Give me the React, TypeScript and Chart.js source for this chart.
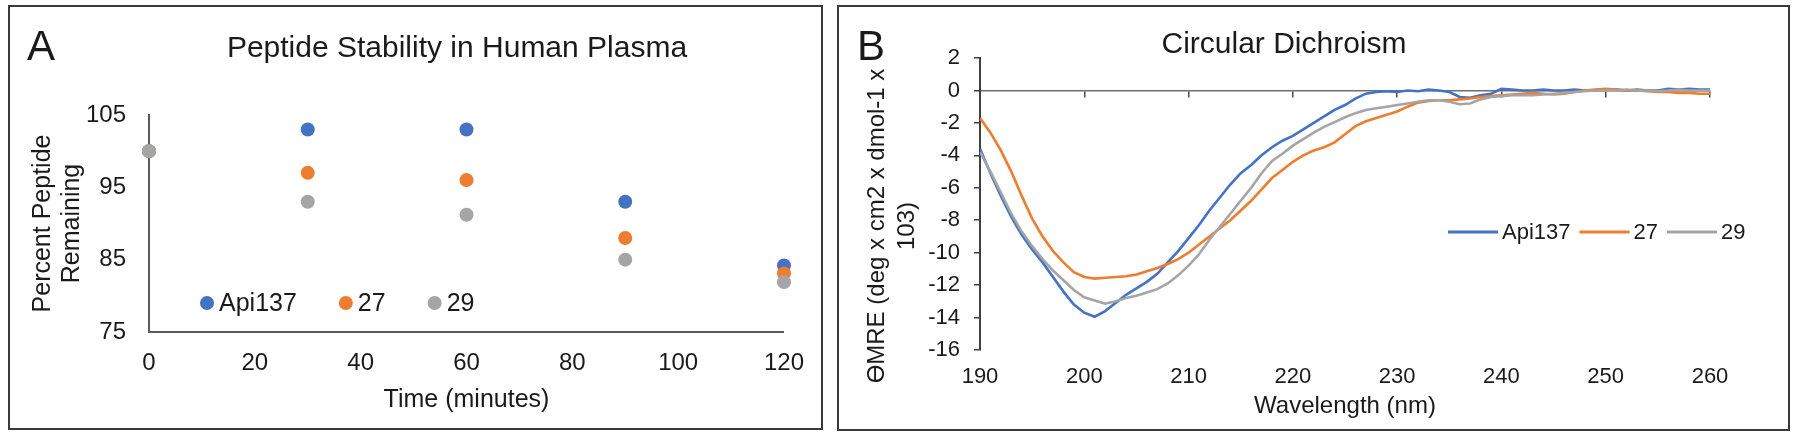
import React, { useEffect, useRef } from 'react';
import { Chart, registerables } from 'chart.js';

Chart.register(...registerables);

const FONT = "'Liberation Sans', Arial, Helvetica, sans-serif";
const TEXT = '#1a1a1a';
const AXIS = '#595959';

// ---------- shared series ----------
const seriesNames = ['Api137', '27', '29'];
const seriesColors = ['#4472C4', '#ED7D31', '#A5A5A5'];
// later series are painted on top (as in the original spreadsheet chart)
const seriesDrawOrder = [2, 1, 0];

// ---------- Panel A: Peptide Stability in Human Plasma ----------
const timeMinutes = [0, 30, 60, 90, 120];
const api137Stability = [100, 103, 103, 93, 84.2];
const p27Stability = [100, 97, 96, 88, 83.1];
const p29Stability = [100, 93, 91.2, 85, 81.9];
const stabilityTicksX = [0, 20, 40, 60, 80, 100, 120];
const stabilityTicksY = [75, 85, 95, 105];

// ---------- Panel B: Circular Dichroism ----------
const wavelengthNm = [
  190, 191, 192, 193, 194, 195, 196, 197, 198, 199,
  200, 201, 202, 203, 204, 205, 206, 207, 208, 209,
  210, 211, 212, 213, 214, 215, 216, 217, 218, 219,
  220, 221, 222, 223, 224, 225, 226, 227, 228, 229,
  230, 231, 232, 233, 234, 235, 236, 237, 238, 239,
  240, 241, 242, 243, 244, 245, 246, 247, 248, 249,
  250, 251, 252, 253, 254, 255, 256, 257, 258, 259, 260,
];
const api137CD = [
  -3.6, -5.1, -6.5, -7.8, -8.9, -9.8, -10.6, -11.5, -12.4, -13.2,
  -13.7, -13.95, -13.6, -13.1, -12.6, -12.2, -11.8, -11.3, -10.6, -9.9,
  -9.1, -8.3, -7.4, -6.6, -5.8, -5.1, -4.6, -4.0, -3.5, -3.1,
  -2.8, -2.4, -2.0, -1.6, -1.2, -0.9, -0.5, -0.2, -0.1, -0.05,
  -0.1, 0, -0.05, 0.05, 0, -0.1, -0.4, -0.45, -0.3, -0.2,
  0.1, 0.05, 0, 0, 0.05, 0, 0, 0.05, 0, 0,
  0.05, 0.05, 0, 0.05, 0, 0, 0.1, 0.05, 0.1, 0.05, 0.05,
];
const p27CD = [
  -1.7, -2.6, -3.7, -5.0, -6.5, -7.9, -9.0, -9.9, -10.6, -11.2,
  -11.5, -11.6, -11.55, -11.5, -11.45, -11.35, -11.15, -10.95, -10.7, -10.4,
  -10.0, -9.5, -9.0, -8.5, -8.0, -7.4, -6.8, -6.1, -5.4, -4.9,
  -4.4, -4.0, -3.7, -3.5, -3.2, -2.7, -2.2, -1.9, -1.7, -1.5,
  -1.3, -1.0, -0.75, -0.65, -0.6, -0.6, -0.55, -0.5, -0.4, -0.35,
  -0.3, -0.25, -0.2, -0.15, -0.2, -0.25, -0.2, -0.1, 0, 0.05,
  0.1, 0.05, 0, 0, -0.05, -0.1, -0.1, -0.15, -0.15, -0.2, -0.2,
];
const p29CD = [
  -3.8, -5.0, -6.3, -7.6, -8.7, -9.6, -10.4, -11.1, -11.7, -12.3,
  -12.75, -12.95, -13.15, -13.0, -12.8, -12.65, -12.45, -12.25, -11.9, -11.4,
  -10.8, -10.1, -9.2, -8.4, -7.6, -6.8, -6.0, -5.1, -4.35, -3.9,
  -3.4, -3.0, -2.6, -2.25, -1.95, -1.65, -1.4, -1.2, -1.1, -1.0,
  -0.9, -0.8, -0.7, -0.6, -0.6, -0.7, -0.85, -0.8, -0.55, -0.4,
  -0.35, -0.3, -0.3, -0.3, -0.25, -0.2, -0.15, -0.1, -0.05, 0,
  0, 0, 0.05, 0, 0, -0.05, 0, 0.05, 0, 0, 0,
];
const cdTicksX = [190, 200, 210, 220, 230, 240, 250, 260];
const cdTicksY = [-16, -14, -12, -10, -8, -6, -4, -2, 0, 2];

const stabilitySeries = [api137Stability, p27Stability, p29Stability];
const cdSeries = [api137CD, p27CD, p29CD];

// ---------- decoration plugin (panel letter, title, legend, custom y title) ----------
const decorPlugin = {
  id: 'decor',
  afterDraw(chart: any, _args: any, opts: any) {
    const ctx = chart.ctx as CanvasRenderingContext2D;
    const area = chart.chartArea;
    ctx.save();
    ctx.fillStyle = TEXT;
    ctx.textBaseline = 'alphabetic';
    // panel letter
    ctx.font = `42px ${FONT}`;
    ctx.textAlign = 'left';
    ctx.fillText(opts.letter, opts.letterX, opts.letterY);
    // title
    ctx.font = `30px ${FONT}`;
    ctx.textAlign = 'center';
    ctx.fillText(opts.title, opts.titleX, opts.titleY);

    // custom rotated y title
    if (opts.yTitle) {
      ctx.font = `${opts.yTitle.size}px ${FONT}`;
      ctx.textAlign = 'center';
      ctx.textBaseline = 'middle';
      opts.yTitle.lines.forEach((line: string, i: number) => {
        ctx.save();
        ctx.translate(opts.yTitle.x + i * opts.yTitle.lineGap, opts.yTitle.y);
        ctx.rotate(-Math.PI / 2);
        ctx.fillText(line, 0, 0);
        ctx.restore();
      });
    }

    // legend
    const lg = opts.legend;
    if (lg) {
      const datasets = chart.data.datasets;
      ctx.font = `${lg.size}px ${FONT}`;
      ctx.textAlign = 'left';
      ctx.textBaseline = 'middle';
      let x = lg.relative ? area.left + lg.x : lg.x;
      const y = lg.relative ? area.bottom + lg.y : lg.y;
      datasets.forEach((ds: any) => {
        if (lg.kind === 'dot') {
          ctx.fillStyle = ds.backgroundColor;
          ctx.beginPath();
          ctx.arc(x + lg.radius, y, lg.radius, 0, Math.PI * 2);
          ctx.fill();
          x += lg.radius * 2 + lg.symbolGap;
        } else {
          ctx.strokeStyle = ds.borderColor;
          ctx.lineWidth = 3;
          ctx.beginPath();
          ctx.moveTo(x, y);
          ctx.lineTo(x + lg.lineLen, y);
          ctx.stroke();
          x += lg.lineLen + lg.symbolGap;
        }
        ctx.fillStyle = TEXT;
        ctx.fillText(ds.label, x, y + 1);
        x += ctx.measureText(ds.label).width + lg.itemGap;
      });
    }
    ctx.restore();
  },
};

const fixedTicks = (values: number[]) => (scale: any) => {
  scale.ticks = values.map((value) => ({ value }));
};

function buildStabilityConfig(): any {
  return {
    type: 'scatter',
    data: {
      datasets: seriesNames.map((name, i) => ({
        label: name,
        data: timeMinutes.map((t, j) => ({ x: t, y: stabilitySeries[i][j] })),
        backgroundColor: seriesColors[i],
        borderColor: seriesColors[i],
        pointRadius: 7,
        pointHoverRadius: 7,
        pointBorderWidth: 0,
        clip: false,
        order: seriesDrawOrder[i],
      })),
    },
    options: {
      responsive: false,
      animation: false,
      events: [],
      layout: { padding: { left: 0, right: 37, top: 108, bottom: 0 } },
      plugins: {
        legend: { display: false },
        title: { display: false },
        tooltip: { enabled: false },
        decor: {
          letter: 'A',
          letterX: 17,
          letterY: 53,
          title: 'Peptide Stability in Human Plasma',
          titleX: 447,
          titleY: 50,
          legend: {
            kind: 'dot',
            relative: true,
            x: 51,
            y: -29,
            radius: 7,
            symbolGap: 5,
            itemGap: 42,
            size: 25,
          },
        },
      },
      scales: {
        x: {
          type: 'linear',
          min: stabilityTicksX[0],
          max: stabilityTicksX[stabilityTicksX.length - 1],
          afterBuildTicks: fixedTicks(stabilityTicksX),
          afterFit: (s: any) => { s.height = 96; },
          grid: { display: false, drawTicks: false },
          border: { display: true, color: AXIS, width: 2 },
          ticks: { padding: 17, color: TEXT, font: { size: 24, family: FONT } },
          title: {
            display: true,
            text: 'Time (minutes)',
            color: TEXT,
            font: { size: 25, family: FONT, lineHeight: 1.2 },
            padding: { top: 0, bottom: 13 },
          },
        },
        y: {
          type: 'linear',
          min: stabilityTicksY[0],
          max: stabilityTicksY[stabilityTicksY.length - 1],
          afterBuildTicks: fixedTicks(stabilityTicksY),
          afterFit: (s: any) => { s.width = 139; },
          grid: { display: false, drawTicks: false },
          border: { display: true, color: AXIS, width: 2 },
          ticks: { padding: 23, color: TEXT, font: { size: 24, family: FONT } },
          title: {
            display: true,
            text: ['Percent Peptide', 'Remaining'],
            color: TEXT,
            font: { size: 25, family: FONT, lineHeight: 1.16 },
            padding: { top: 18.5, bottom: 0 },
          },
        },
      },
    },
    plugins: [decorPlugin],
  };
}

function buildCDConfig(): any {
  return {
    type: 'line',
    data: {
      datasets: seriesNames.map((name, i) => ({
        label: name,
        data: wavelengthNm.map((w, j) => ({ x: w, y: cdSeries[i][j] })),
        borderColor: seriesColors[i],
        backgroundColor: seriesColors[i],
        borderWidth: 2.6,
        pointRadius: 0,
        tension: 0,
        fill: false,
        order: seriesDrawOrder[i],
        xAxisID: 'x',
        yAxisID: 'y',
      })),
    },
    options: {
      responsive: false,
      animation: false,
      events: [],
      layout: { padding: { left: 0, right: 78, top: 51, bottom: 0 } },
      plugins: {
        legend: { display: false },
        title: { display: false },
        tooltip: { enabled: false },
        decor: {
          letter: 'B',
          letterX: 18,
          letterY: 53,
          title: 'Circular Dichroism',
          titleX: 445,
          titleY: 46,
          yTitle: {
            lines: ['ϴMRE (deg x cm2 x dmol-1 x', '103)'],
            x: 38,
            y: 219,
            lineGap: 30,
            size: 24,
          },
          legend: {
            kind: 'line',
            relative: false,
            x: 609,
            y: 225,
            lineLen: 50,
            symbolGap: 4,
            itemGap: 9,
            size: 22,
          },
        },
      },
      scales: {
        x: {
          type: 'linear',
          position: { y: 0 },
          min: cdTicksX[0],
          max: cdTicksX[cdTicksX.length - 1],
          afterBuildTicks: fixedTicks(cdTicksX),
          grid: {
            display: true,
            drawOnChartArea: false,
            drawTicks: true,
            tickLength: 6,
            color: '#4a4a4a',
            lineWidth: 1.5,
          },
          border: { display: true, color: '#6e6e6e', width: 1.6 },
          ticks: { display: false },
        },
        x2: {
          type: 'linear',
          axis: 'x',
          position: 'bottom',
          min: cdTicksX[0],
          max: cdTicksX[cdTicksX.length - 1],
          afterBuildTicks: fixedTicks(cdTicksX),
          afterFit: (s: any) => { s.height = 79; },
          grid: { display: false, drawTicks: false },
          border: { display: false },
          ticks: { padding: 14, color: TEXT, font: { size: 22, family: FONT } },
          title: {
            display: true,
            text: 'Wavelength (nm)',
            color: TEXT,
            font: { size: 24, family: FONT, lineHeight: 1.2 },
            padding: { top: 0, bottom: 8 },
          },
        },
        y: {
          type: 'linear',
          min: cdTicksY[0],
          max: cdTicksY[cdTicksY.length - 1],
          afterBuildTicks: fixedTicks(cdTicksY),
          afterFit: (s: any) => { s.width = 141; },
          grid: {
            display: true,
            drawOnChartArea: false,
            drawTicks: true,
            tickLength: 6,
            color: '#404040',
            lineWidth: 1.5,
          },
          border: { display: true, color: '#404040', width: 2 },
          ticks: { padding: 14, color: TEXT, font: { size: 22, family: FONT } },
        },
      },
    },
    plugins: [decorPlugin],
  };
}

const panelStyle = (left: number, top: number, width: number, height: number): React.CSSProperties => ({
  position: 'absolute',
  left,
  top,
  width,
  height,
  boxSizing: 'border-box',
  border: '2px solid #3a3a3a',
  background: '#ffffff',
});

export default function App() {
  const refA = useRef<HTMLCanvasElement>(null);
  const refB = useRef<HTMLCanvasElement>(null);

  useEffect(() => {
    Chart.defaults.font.family = FONT;
    const chartA = new Chart(refA.current as HTMLCanvasElement, buildStabilityConfig());
    const chartB = new Chart(refB.current as HTMLCanvasElement, buildCDConfig());
    return () => {
      chartA.destroy();
      chartB.destroy();
    };
  }, []);

  return (
    <div style={{ position: 'absolute', left: 0, top: 0, width: 1800, height: 441, background: '#ffffff' }}>
      <div style={panelStyle(8, 5, 815, 425)}>
        <canvas ref={refA} width={811} height={421} style={{ display: 'block', width: 811, height: 421 }} />
      </div>
      <div style={panelStyle(837, 5, 953, 426)}>
        <canvas ref={refB} width={949} height={422} style={{ display: 'block', width: 949, height: 422 }} />
      </div>
    </div>
  );
}
